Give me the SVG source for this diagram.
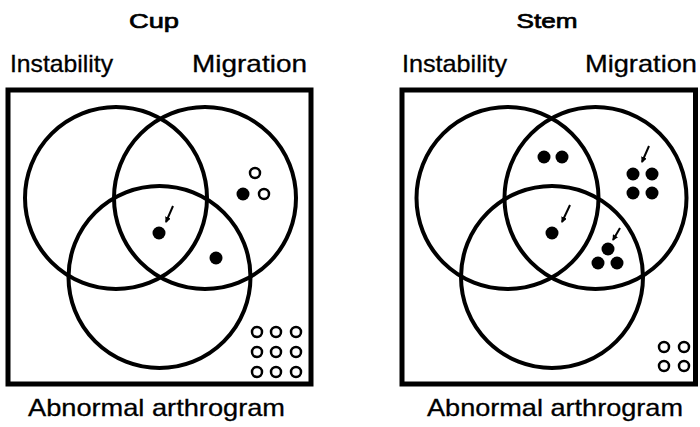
<svg xmlns="http://www.w3.org/2000/svg" width="700" height="427" viewBox="0 0 700 427">
<style>
.box{fill:none;stroke:#000;stroke-width:5}
.c{fill:none;stroke:#000;stroke-width:4}
.f{fill:#000}
.o{fill:#fff;stroke:#000;stroke-width:2.5}
.t{font-family:"Liberation Sans",Arial,sans-serif;font-size:24px;fill:#000;stroke:#000;stroke-width:0.3}
.h{font-family:"Liberation Sans",Arial,sans-serif;font-size:21px;fill:#000;stroke:#000;stroke-width:0.7}
.a{stroke:#000;stroke-width:2;fill:none}
</style>
<defs>
<marker id="ah" markerWidth="6" markerHeight="6" refX="5" refY="3" orient="auto" markerUnits="userSpaceOnUse">
<path d="M0,0 L6,3 L0,6 Z" fill="#000"/>
</marker>
</defs>
<g id="cup">
<text class="h" x="154" y="28" text-anchor="middle" textLength="50" lengthAdjust="spacingAndGlyphs">Cup</text>
<text class="t" x="10" y="72" textLength="103" lengthAdjust="spacingAndGlyphs">Instability</text>
<text class="t" x="192" y="72" textLength="115" lengthAdjust="spacingAndGlyphs">Migration</text>
<rect class="box" x="8" y="90" width="303" height="294"/>
<circle class="c" cx="116" cy="198" r="91"/>
<circle class="c" cx="205" cy="198" r="91"/>
<circle class="c" cx="159.5" cy="277" r="91"/>
<circle class="o" cx="255" cy="173" r="5"/>
<circle class="f" cx="243" cy="194" r="6.5"/>
<circle class="o" cx="264" cy="194" r="5"/>
<circle class="f" cx="159" cy="233" r="6.5"/>
<circle class="f" cx="216" cy="258" r="6.5"/>
<g>
<circle class="o" cx="257" cy="332" r="5"/><circle class="o" cx="276" cy="332" r="5"/><circle class="o" cx="296" cy="332" r="5"/>
<circle class="o" cx="257" cy="352" r="5"/><circle class="o" cx="276" cy="352" r="5"/><circle class="o" cx="296" cy="352" r="5"/>
<circle class="o" cx="257" cy="372" r="5"/><circle class="o" cx="276" cy="372" r="5"/><circle class="o" cx="296" cy="372" r="5"/>
</g>
<text class="t" x="28" y="416" textLength="257" lengthAdjust="spacingAndGlyphs">Abnormal arthrogram</text>
</g>
<g id="stem">
<text class="h" x="547" y="28" text-anchor="middle" textLength="61" lengthAdjust="spacingAndGlyphs">Stem</text>
<text class="t" x="402" y="72" textLength="105" lengthAdjust="spacingAndGlyphs">Instability</text>
<text class="t" x="585" y="72" textLength="112" lengthAdjust="spacingAndGlyphs">Migration</text>
<rect class="box" x="402" y="90" width="293.5" height="294"/>
<circle class="c" cx="507.5" cy="198" r="91"/>
<circle class="c" cx="595.5" cy="198" r="91"/>
<circle class="c" cx="552" cy="277" r="91"/>
<circle class="f" cx="544" cy="157" r="6.5"/>
<circle class="f" cx="562" cy="157" r="6.5"/>
<circle class="f" cx="633" cy="174" r="6.5"/>
<circle class="f" cx="652" cy="174" r="6.5"/>
<circle class="f" cx="633" cy="193" r="6.5"/>
<circle class="f" cx="652" cy="193" r="6.5"/>
<circle class="f" cx="552" cy="233" r="6.5"/>
<circle class="f" cx="608" cy="249" r="6.5"/>
<circle class="f" cx="598" cy="263" r="6.5"/>
<circle class="f" cx="617" cy="263" r="6.5"/>
<circle class="o" cx="664" cy="347" r="5"/><circle class="o" cx="684" cy="347" r="5"/>
<circle class="o" cx="664" cy="366" r="5"/><circle class="o" cx="684" cy="366" r="5"/>
<text class="t" x="427" y="416" textLength="256" lengthAdjust="spacingAndGlyphs">Abnormal arthrogram</text>
</g>
<g id="connectors">
<line class="a" x1="173" y1="206" x2="166" y2="222" marker-end="url(#ah)"/>
<line class="a" x1="649" y1="146" x2="642" y2="162" marker-end="url(#ah)"/>
<line class="a" x1="570" y1="205" x2="562" y2="222" marker-end="url(#ah)"/>
<line class="a" x1="620" y1="228" x2="613" y2="240" marker-end="url(#ah)"/>
</g>
</svg>
